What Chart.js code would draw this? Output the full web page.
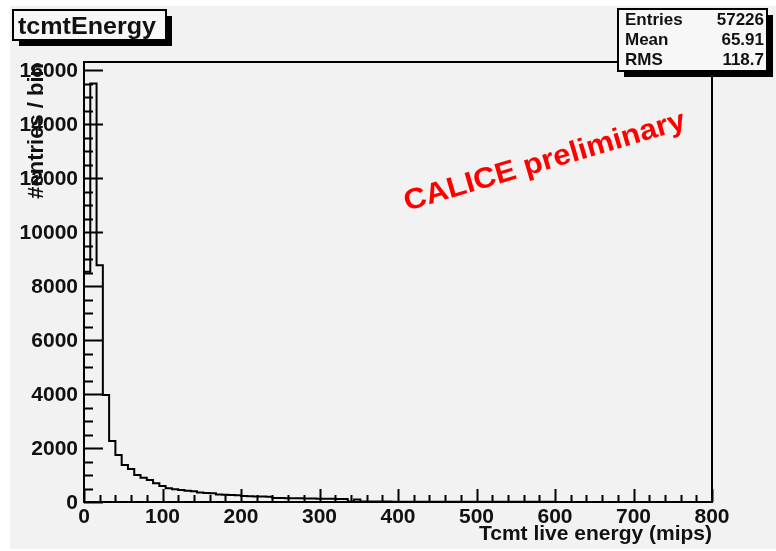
<!DOCTYPE html>
<html>
<head>
<meta charset="utf-8">
<script src="https://cdn.jsdelivr.net/npm/chart.js@4.4.1/dist/chart.umd.min.js"></script>
<style>
  html, body { margin: 0; padding: 0; background: #fff; }
  canvas { display: block; }
</style>
</head>
<body>
<canvas id="tcmt" width="776" height="551"></canvas>
<script>
// ── tcmtEnergy histogram (100 bins, 0-800 mips) ─────────

const histTitle = 'tcmtEnergy';
const xTitle    = 'Tcmt live energy (mips)';
const yTitle    = '#entries / bin';
const stampText = 'CALICE preliminary';

const statLabels = ['Entries', 'Mean', 'RMS'];
const statValues = ['57226', '65.91', '118.7'];

const binLow   = 0;
const binWidth = 8;
const counts = [
  8530, 15500, 8770, 3960, 2260, 1740, 1370, 1220, 1000, 900,
  815, 690, 595, 510, 470, 440, 420, 400, 350, 335,
  320, 275, 265, 255, 250, 225, 215, 205, 200, 195,
  150, 145, 140, 140, 135, 130, 130, 125, 120, 120,
  115, 110, 20, 95, 18, 16, 15, 15, 14, 13,
  12, 12, 11, 11, 10, 10, 9, 9, 9, 8,
  8, 8, 7, 7, 7, 7, 6, 6, 6, 6,
  5, 5, 5, 5, 5, 4, 4, 4, 4, 4,
  4, 3, 3, 3, 3, 3, 3, 3, 2, 2,
  2, 2, 2, 2, 2, 2, 1, 1, 1, 1
];

const xTicks = [0, 100, 200, 300, 400, 500, 600, 700, 800];
const yTicks = [0, 2000, 4000, 6000, 8000, 10000, 12000, 14000, 16000];
const xMinorStep = 20;
const yMinorStep = 500;

const FONT = '"Liberation Sans", Arial, sans-serif';

// outline points: left edge of every bin, closed down to zero at both ends
const xMax = binLow + counts.length * binWidth;
const outline = [{ x: binLow, y: 0 }]
  .concat(counts.map((c, i) => ({ x: binLow + i * binWidth, y: c })))
  .concat([{ x: xMax, y: 0 }]);

// text with optional horizontal stretch to a given width
function txt(c, s, x, y, font, align, base, w) {
  c.save();
  c.font = font; c.textAlign = align; c.textBaseline = base;
  c.translate(x, y);
  if (w) c.scale(w / c.measureText(s).width, 1);
  c.fillText(s, 0, 0);
  c.restore();
}

function box(c, x, y, w, h, sh) {
  c.fillStyle = '#000';
  c.fillRect(x + sh, y + sh, w, h);
  c.fillStyle = '#f7f7f7';
  c.fillRect(x, y, w, h);
  c.strokeStyle = '#000'; c.lineWidth = 2;
  c.strokeRect(x, y, w, h);
}

const rootStyle = {
  id: 'root-style',
  beforeDraw(chart) {
    const c = chart.ctx;
    c.save();
    c.fillStyle = '#fff';
    c.fillRect(0, 0, chart.width, chart.height);
    c.fillStyle = '#f2f2f2';
    c.fillRect(10, 6, chart.width - 10, chart.height - 8);
    c.restore();
  },
  afterDatasetsDraw(chart) {
    const c = chart.ctx;
    const { left, right, top, bottom } = chart.chartArea;
    const xs = chart.scales.x, ys = chart.scales.y;
    c.save();

    // frame
    c.strokeStyle = '#000'; c.lineWidth = 2;
    c.strokeRect(left, top, right - left, bottom - top);

    // y ticks (inward from the left edge)
    c.beginPath();
    for (let v = ys.min; v <= ys.max; v += yMinorStep) {
      const py = Math.round(ys.getPixelForValue(v)) + 0.5;
      const len = v % 2000 === 0 ? 19 : 9;
      c.moveTo(left, py); c.lineTo(left + len, py);
    }
    // x ticks (upward from the bottom edge)
    for (let v = xs.min; v <= xs.max; v += xMinorStep) {
      const px = Math.round(xs.getPixelForValue(v)) + 0.5;
      const len = v % 100 === 0 ? 13 : 7;
      c.moveTo(px, bottom); c.lineTo(px, bottom - len);
    }
    c.lineWidth = 2;
    c.stroke();

    // tick labels
    c.fillStyle = '#111';
    const lblFont = 'bold 21px ' + FONT;
    yTicks.forEach(v => txt(c, String(v), left - 6, ys.getPixelForValue(v) + 1, lblFont, 'right', 'middle'));
    xTicks.forEach(v => txt(c, String(v), xs.getPixelForValue(v), bottom + 5, lblFont, 'center', 'top'));

    // axis titles
    txt(c, xTitle, right, bottom + 38, 'bold 21px ' + FONT, 'right', 'alphabetic');
    c.save();
    c.translate(43, top + 1);
    c.rotate(-Math.PI / 2);
    txt(c, yTitle, 0, 0, 'bold 22px ' + FONT, 'right', 'alphabetic');
    c.restore();

    // watermark
    c.save();
    c.translate(407, 211);
    c.rotate(-16.5 * Math.PI / 180);
    c.fillStyle = '#ff0000';
    txt(c, stampText, 0, 0, 'bold 29px ' + FONT, 'left', 'alphabetic', 292);
    c.restore();

    // title box
    box(c, 13, 10, 153, 30, 6);
    c.fillStyle = '#111';
    txt(c, histTitle, 18, 34, 'bold 23px ' + FONT, 'left', 'alphabetic', 138);

    // stats box
    box(c, 618, 9, 149, 62, 6);
    c.fillStyle = '#111';
    statLabels.forEach((s, i) => {
      txt(c, s, 625, 25 + i * 20, 'bold 17px ' + FONT, 'left', 'alphabetic');
      txt(c, statValues[i], 764, 25 + i * 20, 'bold 17px ' + FONT, 'right', 'alphabetic');
    });

    c.restore();
  }
};

new Chart(document.getElementById('tcmt'), {
  type: 'line',
  data: {
    datasets: [{
      label: histTitle,
      data: outline,
      stepped: 'before',
      borderColor: '#000',
      borderWidth: 2,
      borderJoinStyle: 'miter',
      pointRadius: 0,
      fill: false
    }]
  },
  options: {
    responsive: false,
    animation: false,
    layout: { padding: { left: 84, right: 64, top: 62, bottom: 49 } },
    plugins: { legend: { display: false }, tooltip: { enabled: false } },
    scales: {
      x: { type: 'linear', min: 0, max: 800, display: false },
      y: { type: 'linear', min: 0, max: 16300, display: false }
    }
  },
  plugins: [rootStyle]
});
</script>
</body>
</html>
